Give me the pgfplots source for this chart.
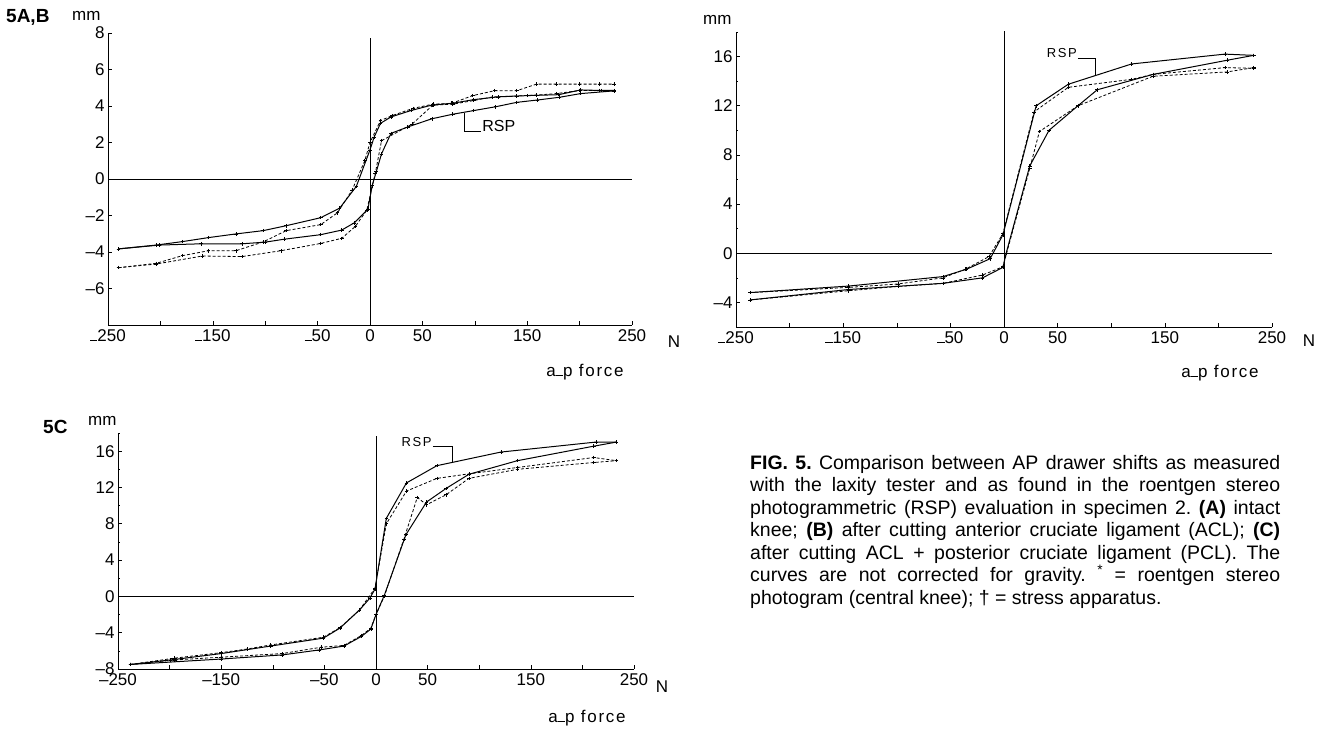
\documentclass[border=0pt]{standalone}
\usepackage{fontspec}
\setmainfont{Liberation Sans}
\usepackage{pgfplots}
\pgfplotsset{compat=1.18}
\newcommand{\lm}{\rule[0.02em]{0.42em}{0.09em}}
\pgfplotsset{
  panel/.style={
    scale only axis, xmin=-250, xmax=250, clip=false,
    axis x line*=bottom, axis y line*=left,
    axis line style={line width=0.8pt,-},
    tick align=inside, major tick length=4pt, minor tick length=2pt,
    tick style={black,line width=0.6pt},
    xtick={-250,-200,...,250},
    ticklabel style={font=\fontsize{17}{17}\selectfont},
    xticklabel style={yshift=-1pt},
  },
  sol/.style={black, line width=1pt, mark=+, mark size=1.8pt, mark options={solid,line width=0.6pt}},
  das/.style={black, line width=0.8pt, dash pattern=on 3pt off 2pt, mark=+, mark size=1.8pt, mark options={solid,line width=0.6pt}},
}
\tikzset{zl/.style={black, line width=0.7pt}}
\begin{document}
\frenchspacing
\begin{tikzpicture}[x=1pt,y=1pt]
% ---------------- Panel A
\begin{axis}[panel, at={(108pt,-325pt)}, anchor=south west, width=524pt, height=292pt,
  ymin=-8, ymax=8, ytick={-8,-6,...,8}, yticklabels={,–6,–4,–2,0,2,4,6,8},
  xticklabels={\lm250,,\lm150,,\lm50,0,50,,150,,250}]
\draw[zl] (axis cs:-250,0) -- (axis cs:250,0);
\draw[zl] (axis cs:0,-8) -- (axis cs:0,7.7);
\addplot[sol] coordinates {(-240,-3.83) (-204,-3.62) (-179,-3.43) (-154,-3.21) (-128,-3.01) (-102,-2.83) (-80,-2.56) (-47,-2.12) (-29,-1.6) (-13,-0.4) (0,1.6) (4,2.3) (10,3.05) (20,3.4) (39,3.75) (59,4.05) (79,4.15) (99,4.35) (122,4.5) (150,4.57) (180,4.62) (201,4.88) (221,4.85) (233,4.85)};
\addplot[sol] coordinates {(-240,-3.83) (-201,-3.62) (-161,-3.55) (-122,-3.55) (-100,-3.46) (-82,-3.3) (-47,-3.05) (-27,-2.8) (-15,-2.4) (-2,-1.66) (2,-0.37) (6,0.4) (11,1.38) (20,2.5) (36,2.85) (59,3.3) (79,3.55) (99,3.75) (120,3.96) (140,4.2) (160,4.33) (181,4.48) (201,4.68) (233,4.83)};
\addplot[das] coordinates {(-240,-4.86) (-204,-4.62) (-179,-4.2) (-154,-3.93) (-128,-3.93) (-102,-3.45) (-80,-2.83) (-47,-2.5) (-31,-1.85) (-17,-0.6) (-5,1.0) (0,2.0) (10,3.2) (21,3.47) (41,3.87) (60,4.1) (78,4.15) (98,4.57) (119,4.84) (140,4.84) (159,5.2) (178,5.2) (200,5.2) (219,5.2) (233,5.2)};
\addplot[das] coordinates {(-240,-4.86) (-204,-4.66) (-160,-4.22) (-122,-4.25) (-85,-3.93) (-47,-3.53) (-27,-3.25) (-14,-2.6) (-3,-1.7) (5,0.3) (11,2.1) (40,3.0) (60,4.05) (79,4.1) (99,4.3) (117,4.5) (140,4.55) (159,4.6) (178,4.68) (200,4.85) (219,4.85) (233,4.83)};
\draw[line width=1.1pt] (axis cs:90,3.6) -- (axis cs:90,2.62) -- (axis cs:106,2.62);
\node[anchor=west, font=\fontsize{16}{16}\selectfont, inner sep=1pt] at (axis cs:106,2.9) {RSP};
\end{axis}
% ---------------- Panel B
\begin{axis}[panel, at={(736pt,-327pt)}, anchor=south west, width=536pt, height=295pt,
  ymin=-6, ymax=18, ytick={-4,0,...,16}, minor ytick={-6,-2,...,18}, yticklabels={–4,0,4,8,12,16},
  xticklabels={\lm250,,\lm150,,\lm50,0,50,,150,,250}]
\draw[zl] (axis cs:-250,0) -- (axis cs:250,0);
\draw[zl] (axis cs:0,-6) -- (axis cs:0,18.1);
\addplot[sol] coordinates {(-237,-3.2) (-145,-2.67) (-57,-1.9) (-35,-1.3) (-13,-0.45) (-1,1.5) (30,12.0) (60,13.75) (119,15.4) (206,16.2) (233,16.1)};
\addplot[sol] coordinates {(-237,-3.8) (-145,-2.95) (-57,-2.45) (-20,-2.0) (-1,-1.15) (2,0) (24,7.1) (42,10.0) (69,12.0) (87,13.3) (139,14.55) (208,15.7) (233,16.1)};
\addplot[das] coordinates {(-237,-3.2) (-145,-2.78) (-99,-2.5) (-57,-2.0) (-36,-1.3) (-14,-0.27) (-1,1.6) (28,11.5) (60,13.5) (119,14.15) (139,14.55) (206,15.1) (233,15.05)};
\addplot[das] coordinates {(-237,-3.8) (-145,-3.05) (-99,-2.7) (-57,-2.45) (-20,-1.77) (-1,-1.1) (24,6.9) (33,9.9) (69,12.0) (139,14.4) (208,14.75) (233,15.1)};
\draw[line width=1.1pt] (axis cs:69,15.84) -- (axis cs:85,15.84) -- (axis cs:85,14.42);
\node[anchor=east, font=\fontsize{13}{13}\selectfont\addfontfeature{LetterSpace=12}, inner sep=1pt] at (axis cs:69,16.25) {RSP};
\end{axis}
% ---------------- Panel C
\begin{axis}[panel, at={(118pt,-669pt)}, anchor=south west, width=516pt, height=236pt,
  ymin=-8, ymax=18, ytick={-8,-4,...,16}, minor ytick={-6,-2,...,18}, yticklabels={–8,–4,0,4,8,12,16},
  xticklabels={–250,,–150,,–50,0,50,,150,,250}]
\draw[zl] (axis cs:-250,0) -- (axis cs:250,0);
\draw[zl] (axis cs:0,-8) -- (axis cs:0,17.7);
\addplot[sol] coordinates {(-238,-7.5) (-199,-7.0) (-150,-6.3) (-102,-5.47) (-51,-4.6) (-35,-3.5) (-16,-1.5) (-6,-0.2) (-1,0.8) (10,8.6) (29.5,12.5) (59,14.4) (121,15.9) (213,17.0) (233,17.0)};
\addplot[sol] coordinates {(-238,-7.5) (-150,-6.9) (-91,-6.45) (-55,-5.9) (-31,-5.47) (-14,-4.4) (-5,-3.6) (0,-2.0) (8,0.1) (29,6.8) (49,10.4) (68,11.9) (90,13.45) (137,14.95) (211,16.55) (233,17.0)};
\addplot[das] coordinates {(-238,-7.5) (-195,-6.8) (-150,-6.2) (-125,-5.8) (-102,-5.35) (-51,-4.5) (-35,-3.45) (-16,-1.5) (-1,0.9) (10,8.0) (29.5,11.6) (59,13.0) (90,13.5) (137,14.2) (211,15.3) (233,14.95)};
\addplot[das] coordinates {(-238,-7.5) (-195,-7.0) (-150,-6.7) (-91,-6.3) (-53,-5.6) (-31,-5.4) (-14,-4.3) (-5,-3.5) (0,-2.0) (8,0.0) (27,6.3) (40,10.9) (49,10.1) (68,11.2) (90,13.0) (137,14.0) (211,14.75) (233,14.95)};
\draw[line width=1.1pt] (axis cs:55,16.55) -- (axis cs:74,16.55) -- (axis cs:74,14.7);
\node[anchor=east, font=\fontsize{13}{13}\selectfont\addfontfeature{LetterSpace=12}, inner sep=1pt] at (axis cs:55,17.0) {RSP};
\end{axis}
% ---------------- Labels
\node[anchor=west, font=\bfseries\fontsize{19}{19}\selectfont, inner sep=0] at (6,-17) {5A,B};
\node[anchor=west, font=\fontsize{17}{17}\selectfont, inner sep=0] at (72,-16) {mm};
\node[anchor=west, font=\fontsize{17}{17}\selectfont, inner sep=0] at (703,-20) {mm};
\node[anchor=west, font=\bfseries\fontsize{19}{19}\selectfont, inner sep=0] at (43,-427) {5C};
\node[anchor=west, font=\fontsize{17}{17}\selectfont, inner sep=0] at (88,-421) {mm};
\node[font=\fontsize{17}{17}\selectfont] at (674,-342) {N};
\node[font=\fontsize{17}{17}\selectfont] at (1309,-341) {N};
\node[font=\fontsize{17}{17}\selectfont] at (662,-687) {N};
\node[font=\fontsize{17}{17}\selectfont\addfontfeature{LetterSpace=10}] at (585,-372) {a\lm p\ force};
\node[font=\fontsize{17}{17}\selectfont\addfontfeature{LetterSpace=10}] at (1220,-373) {a\lm p\ force};
\node[font=\fontsize{17}{17}\selectfont\addfontfeature{LetterSpace=10}] at (587,-718) {a\lm p\ force};
% ---------------- Caption
\node[anchor=north west, inner sep=0, text width=530pt, align=justify, font=\fontsize{19.5}{22.5}\selectfont] at (750,-455) {%
\textbf{FIG. 5.} Comparison between AP drawer shifts as measured\linebreak
with the laxity tester and as found in the roentgen stereo\linebreak
photogrammetric (RSP) evaluation in specimen 2. \textbf{(A)} intact\linebreak
knee; \textbf{(B)} after cutting anterior cruciate ligament (ACL); \textbf{(C)}\linebreak
after cutting ACL + posterior cruciate ligament (PCL). The\linebreak
curves are not corrected for gravity. \textsuperscript{*} = roentgen stereo\linebreak
photogram (central knee); † = stress apparatus.};
\pgfresetboundingbox
\path[use as bounding box] (0,-730) rectangle (1319,0);
\end{tikzpicture}
\end{document}
